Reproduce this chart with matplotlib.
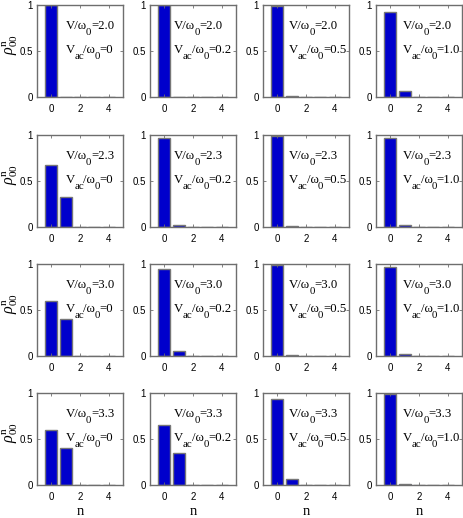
import matplotlib
matplotlib.use("Agg")
import matplotlib.pyplot as plt
from matplotlib.transforms import offset_copy

n_vals = [0, 1, 2, 3, 4]
V_vals = ["2.0", "2.3", "3.0", "3.3"]
Vac_vals = ["0", "0.2", "0.5", "1.0"]

# rho_00^n for each V (rows) and Vac (columns)
rho_V20 = [[1.00, 0.00, 0.00, 0.00, 0.00],
           [1.00, 0.00, 0.00, 0.00, 0.00],
           [0.99, 0.01, 0.00, 0.00, 0.00],
           [0.92, 0.07, 0.005, 0.00, 0.00]]
rho_V23 = [[0.67, 0.33, 0.00, 0.00, 0.00],
           [0.97, 0.02, 0.00, 0.00, 0.00],
           [0.99, 0.01, 0.00, 0.00, 0.00],
           [0.97, 0.02, 0.003, 0.00, 0.00]]
rho_V30 = [[0.60, 0.40, 0.00, 0.00, 0.00],
           [0.95, 0.05, 0.00, 0.00, 0.00],
           [0.99, 0.01, 0.00, 0.00, 0.00],
           [0.97, 0.02, 0.005, 0.00, 0.00]]
rho_V33 = [[0.60, 0.40, 0.00, 0.00, 0.00],
           [0.65, 0.35, 0.00, 0.00, 0.00],
           [0.93, 0.07, 0.00, 0.00, 0.00],
           [0.99, 0.015, 0.004, 0.00, 0.00]]
rho_all = [rho_V20, rho_V23, rho_V30, rho_V33]

plt.rcParams['mathtext.fontset'] = 'custom'
plt.rcParams['mathtext.rm'] = 'Liberation Serif'
plt.rcParams['mathtext.it'] = 'Liberation Serif:italic'

W, H = 463, 518
fig = plt.figure(figsize=(W / 100, H / 100), dpi=100)
renderer = fig.canvas.get_renderer()

lefts = [37, 150, 263, 376]
tops = [5, 135, 264, 393]
text_x = [0.33, 0.28, 0.30, 0.31]
aw, ah = 86, 92
spine_c = '#6e6e6e'
tick_font = ['Liberation Sans Narrow', 'Liberation Sans']
serif = 'Liberation Serif'


def draw_pieces(ax, x, y, pieces, fs_main=9.2, fs_sub=7.8, drop=6):
    dx = 0.0
    for s, sub in pieces:
        fs = fs_sub if sub else fs_main
        dy = -drop if sub else 0
        tr = offset_copy(ax.transAxes, fig=fig, x=dx, y=dy, units='dots')
        t = ax.text(x, y, s, transform=tr, fontsize=fs, family=serif,
                    ha='left', va='baseline')
        dx += t.get_window_extent(renderer).width - 0.5


for r in range(4):
    for c in range(4):
        ax = fig.add_axes([lefts[c] / W, 1 - (tops[r] + ah) / H, aw / W, ah / H])
        ax.bar(n_vals, rho_all[r][c], width=0.82, color='#0000cc',
               edgecolor='#777777', linewidth=1.0)
        ax.set_xlim(-1, 5)
        ax.set_ylim(0, 1)
        ax.set_xticks([0, 2, 4])
        ax.set_yticks([0, 0.5, 1])
        ax.set_yticklabels(['0', '0.5', '1'])
        ax.tick_params(direction='in', top=True, right=True, length=2.5,
                       width=0.6, color=spine_c, labelsize=7, pad=3)
        ax.tick_params(axis='x', pad=5)
        for lab in ax.get_xticklabels() + ax.get_yticklabels():
            lab.set_family(tick_font)
        for s in ax.spines.values():
            s.set_color(spine_c)
            s.set_linewidth(1.0)
        draw_pieces(ax, text_x[c], 0.74,
                    [("V/ω", False), ("0", True), ("=" + V_vals[r], False)])
        draw_pieces(ax, text_x[c], 0.48,
                    [("V", False), ("ac", True), ("/ω", False), ("0", True),
                     ("=" + Vac_vals[c], False)])
        if r == 3:
            ax.set_xlabel('n', family=serif, fontsize=10.5, labelpad=2)
    fig.text(10 / W, 1 - (tops[r] + 40) / H, r'$\rho^{\mathrm{n}}_{\mathrm{00}}$',
             rotation=90, ha='center', va='center', fontsize=11.5, family=serif)

fig.savefig('out.png', dpi=100)
